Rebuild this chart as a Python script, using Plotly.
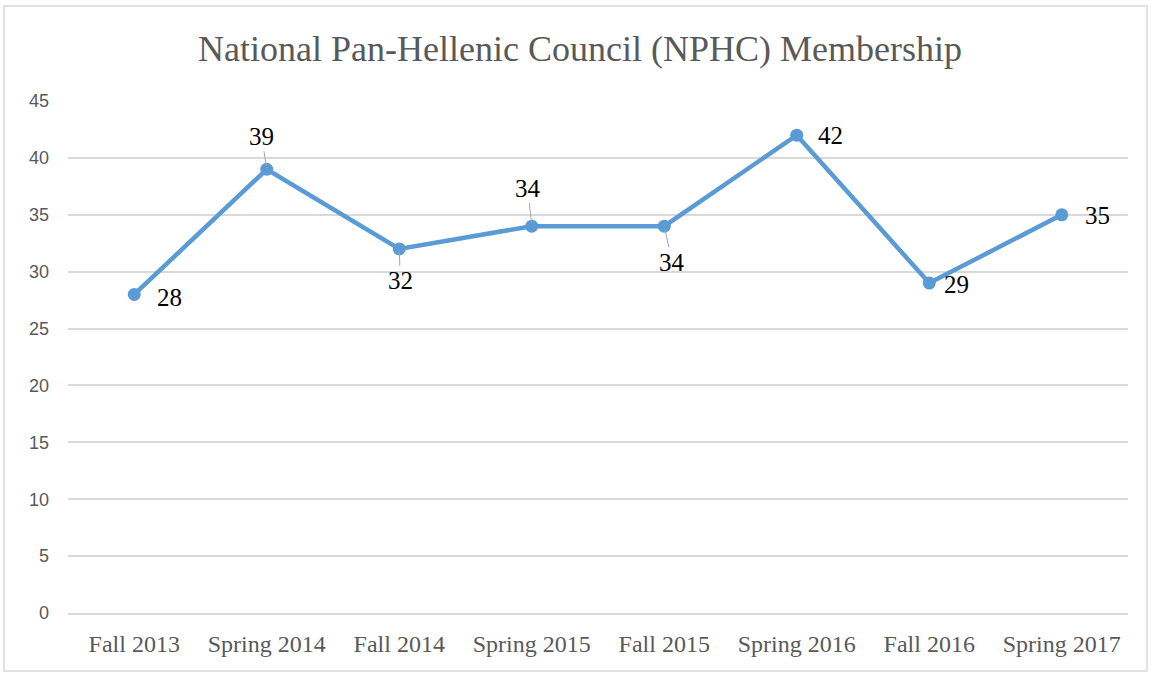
import plotly.graph_objects as go

categories = ["Fall 2013", "Spring 2014", "Fall 2014", "Spring 2015",
              "Fall 2015", "Spring 2016", "Fall 2016", "Spring 2017"]
members = [28, 39, 32, 34, 34, 42, 29, 35]
# label offsets in pixels (dx, dy) and whether a leader line is drawn
label_dx = [35, -5, 1, -4, 8, 34, 27, 36]
label_dy = [-3, 33, -32, 38, -36, 0, -1, -1]
leader = [False, True, True, True, True, False, False, False]

W, H = 1151, 675
L, R, T, B = 68, 23, 101, 62
pw, ph = W - L - R, H - T - B

fig = go.Figure()
fig.add_trace(go.Scatter(
    x=categories, y=members, mode="lines+markers",
    line=dict(color="#5B9BD5", width=4.5),
    marker=dict(color="#5B9BD5", size=13),
    hoverinfo="skip", showlegend=False,
))

for c, v, dx, dy, ld in zip(categories, members, label_dx, label_dy, leader):
    if ld:
        fig.add_annotation(
            x=c, y=v, xref="x", yref="y", text=str(v),
            showarrow=True, ax=dx, ay=-dy, arrowhead=0, arrowwidth=1,
            arrowcolor="#A6A6A6", standoff=3, startstandoff=0,
            font=dict(family="Liberation Serif", size=25, color="#000000"),
        )
    else:
        fig.add_annotation(
            x=c, y=v, xref="x", yref="y", text=str(v),
            showarrow=False, xshift=dx, yshift=dy,
            font=dict(family="Liberation Serif", size=25, color="#000000"),
        )

# chart border
fig.add_shape(type="rect", xref="paper", yref="paper",
              x0=(4 - L) / pw, x1=(1147 - L) / pw,
              y0=(T + ph - 671) / ph, y1=(T + ph - 6) / ph,
              line=dict(color="#D9D9D9", width=1.5), layer="below")

fig.update_layout(
    width=W, height=H,
    margin=dict(l=L, r=R, t=T, b=B),
    paper_bgcolor="white", plot_bgcolor="white",
    title=dict(text="National Pan-Hellenic Council (NPHC) Membership",
               x=(580) / W, xanchor="center", y=1 - 48 / H, yanchor="middle",
               font=dict(family="Liberation Serif", size=36, color="#595959")),
    xaxis=dict(type="category", range=[-0.5, 7.5], showgrid=False,
               showline=True, linecolor="#D9D9D9", linewidth=1.5,
               zeroline=False, ticks="",
               ticklabelstandoff=8,
               tickfont=dict(family="Liberation Serif", size=24, color="#595959")),
    yaxis=dict(range=[0, 45], dtick=5, showgrid=True, gridcolor="#D9D9D9",
               gridwidth=1.5, zeroline=False, showline=False, ticks="",
               ticklabelstandoff=18,
               tickfont=dict(family="Liberation Sans", size=18, color="#595959")),
)

fig.write_html("out.html", config={"displayModeBar": False},
               post_script="document.body.style.margin='0';")
